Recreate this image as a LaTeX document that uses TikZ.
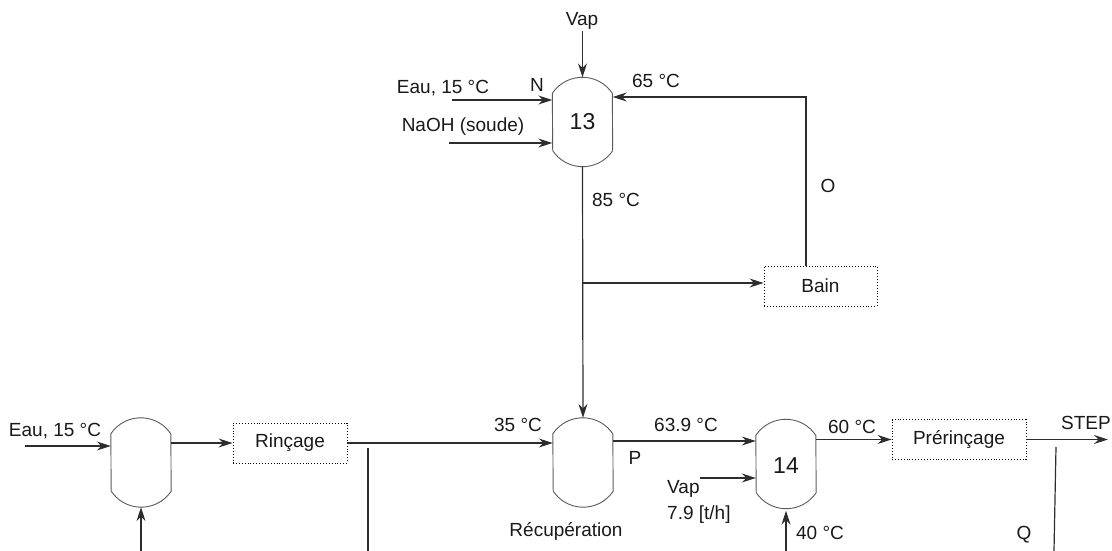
\documentclass[tikz,border=0pt]{standalone}
\usepackage{fontspec}
\setmainfont{Liberation Sans}
\usepackage{tikz}
\usetikzlibrary{arrows.meta, positioning, calc}
\definecolor{pipegray}{RGB}{45, 45, 45}
\definecolor{shellgray}{RGB}{90, 90, 90}
\tikzset{
    vessel/.style={rectangle, minimum width=60pt, minimum height=89pt, inner sep=0pt, font=\fontsize{23}{27}\selectfont},
    shell/.style={draw, shellgray, line width=0.9pt},
    unitbox/.style={rectangle, draw, dotted, line width=0.9pt, minimum height=40pt, inner sep=0pt},
    flow/.style={draw, -{Stealth[length=14pt, width=9pt]}, pipegray, line width=1.2pt},
    pipe/.style={draw, pipegray, line width=1.2pt},
    lbl/.style={text height=13pt, text depth=4pt, inner sep=0pt}
}

\begin{document}
\begin{tikzpicture}[x=1pt, y=1pt, every node/.style={font=\fontsize{19}{23}\selectfont, text=black!90}]
    \useasboundingbox (0,0) rectangle (1112,-551);

    % Vessels and units
    \node[vessel] (vL) at (141,-462.5) {};
    \node[vessel] (v13) at (582.5,-122) {13};
    \node[vessel] (rec) at (583,-462.5) {};
    \node[vessel] (v14) at (786,-466) {14};
    \node[unitbox, minimum width=113pt] (bain) at (820.5,-286) {Bain};
    \node[unitbox, minimum width=114pt] (rinc) at (290,-443) {Rinçage};
    \node[unitbox, minimum width=134pt] (prer) at (959,-439.5) {Prérinçage};

    \foreach \v in {vL, v13, rec} {
        \draw[shell] ($(\v.north west)+(0,-16)$) arc[start angle=146.2, end angle=33.8, radius=36.1]
            -- ($(\v.south east)+(0,16)$) arc[start angle=-33.8, end angle=-146.2, radius=36.1] -- cycle;
    }
    \draw[shell] ($(v14.north west)+(0,-14)$) arc[start angle=146.2, end angle=33.8, radius=36.1]
        -- ($(v14.south east)+(0,18)$) arc[start angle=-33.8, end angle=-146.2, radius=36.1] -- cycle;

    % Free ends
    \coordinate (vapT) at (582.5,-31);
    \coordinate (eauN) at (452,-100);
    \coordinate (naoh) at (449,-143);
    \coordinate (oTop) at (806,-97);
    \coordinate (split) at (582.5,-283);
    \coordinate (eauL) at (25,-446);
    \coordinate (inL) at (141,-551);
    \coordinate (drain) at (368,-448);
    \coordinate (drainB) at (368,-551);
    \coordinate (recOut) at (613,-441);
    \coordinate (vap14) at (700,-478);
    \coordinate (in14) at (786,-551);
    \coordinate (step) at (1108,-443);
    \coordinate (qTop) at (1056,-447);
    \coordinate (qBot) at (1054,-551);

    % Top loop
    \draw[flow] (vapT) -- (v13.north);
    \draw[flow] (eauN) -- (eauN -| v13.west);
    \draw[flow] (naoh) -- (naoh -| v13.west);
    \draw[flow] (bain.north -| oTop) -- (oTop) -- (oTop -| v13.east);
    \draw[flow] (v13.south) -- (rec.north);
    \draw[flow] (split) -- (split -| bain.west);

    % Bottom line
    \draw[flow] (eauL) -- (eauL -| vL.west);
    \draw[flow] (inL) -- (vL.south);
    \draw[flow] (rinc.west -| vL.east) -- (rinc.west);
    \draw[flow] (rinc.east) -- (rinc.east -| rec.west);
    \draw[pipe] (drain) -- (drainB);
    \draw[flow] (recOut) -- (recOut -| v14.west);
    \draw[flow] (vap14) -- (vap14 -| v14.west);
    \draw[flow] (in14) -- (v14.south);
    \draw[flow] (prer.west -| v14.east) -- (prer.west);
    \draw[flow] (prer.east) -- (step |- prer.east);
    \draw[pipe] (qTop) -- (qBot);

    % Labels
    \node[lbl] (lVapT) at (582,-21) {Vap};
    \node[lbl] (lEauN) at (443,-89) {Eau, 15 °C};
    \node[lbl] (lN) at (537,-87) {N};
    \node[lbl] (lNaoh) at (463,-127) {NaOH (soude)};
    \node[lbl] (l65) at (656,-83) {65 °C};
    \node[lbl] (lO) at (828,-188) {O};
    \node[lbl] (l85) at (616,-202) {85 °C};
    \node[lbl] (lEauL) at (55,-432) {Eau, 15 °C};
    \node[lbl] (l35) at (518,-427) {35 °C};
    \node[lbl] (lRec) at (566,-532) {Récupération};
    \node[lbl] (l639) at (686,-427) {63.9 °C};
    \node[lbl] (lP) at (635,-460) {P};
    \node[lbl, anchor=west] (lVap14) at (667,-489) {Vap};
    \node[lbl, anchor=west] (lDebit) at (667,-515) {7.9 [t/h]};
    \node[lbl] (l40) at (820,-535) {40 °C};
    \node[lbl] (l60) at (852,-429) {60 °C};
    \node[lbl] (lStep) at (1086,-425) {STEP};
    \node[lbl] (lQ) at (1024,-535) {Q};
\end{tikzpicture}
\end{document}
